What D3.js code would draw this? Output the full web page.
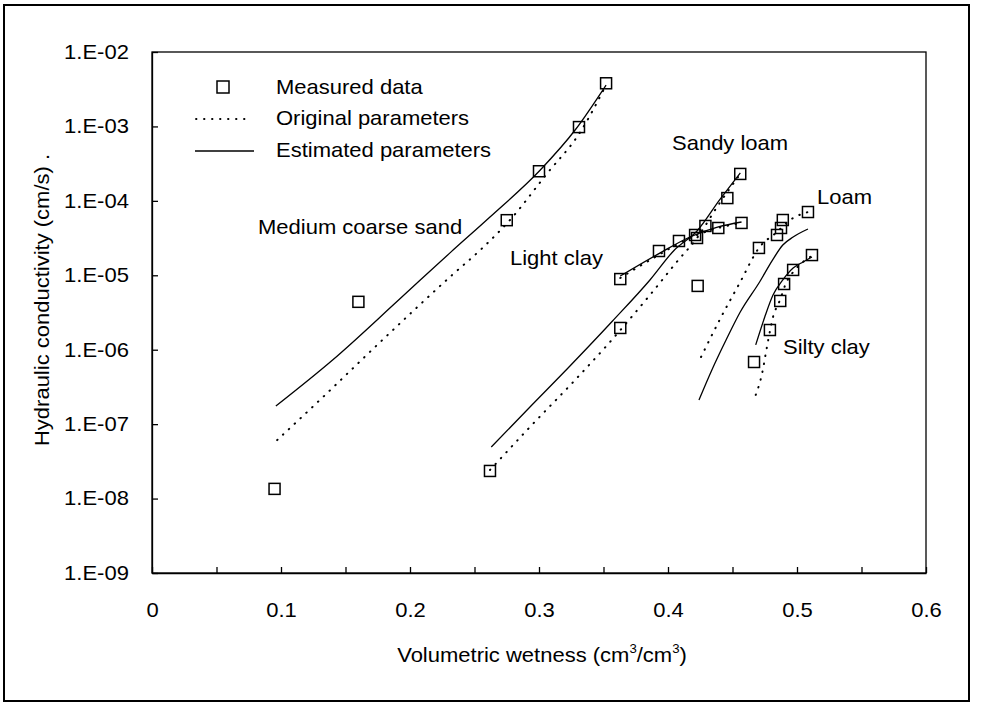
<!DOCTYPE html>
<html>
<head>
<meta charset="utf-8">
<script src="https://cdn.jsdelivr.net/npm/d3@7"></script>
<style>
  body { margin: 0; background: #fff; }
  text { font-family: Arial, "Liberation Sans", sans-serif; fill: #000; }
</style>
</head>
<body>
<div id="target"></div>
<script>
// volumetric wetness (cm3/cm3), hydraulic conductivity (cm/s)
var sandMeasured = [[0.095, 1.35e-8], [0.160, 4.4e-6], [0.275, 5.5e-5], [0.300, 2.5e-4], [0.331, 9.8e-4], [0.352, 3.8e-3]];
var sandOriginal = [[0.097, 6.1e-8], [0.130, 2.1e-7], [0.177, 1.27e-6], [0.231, 9.5e-6], [0.257, 2.4e-5], [0.2775, 5.53e-5], [0.306, 2.3e-4], [0.332, 8.4e-4], [0.352, 3.6e-3]];
var sandEstimated = [[0.096, 1.75e-7], [0.140, 7.28e-7], [0.192, 4.8e-6], [0.231, 2.0e-5], [0.262, 6.07e-5], [0.301, 2.6e-4], [0.328, 8.95e-4], [0.352, 3.6e-3]];

var sandyLoamMeasured = [[0.262, 2.35e-8], [0.363, 1.96e-6], [0.423, 7.2e-6], [0.4225, 3.17e-5], [0.429, 4.6e-5], [0.446, 1.09e-4], [0.456, 2.3e-4]];
var sandyLoamOriginal = [[0.262, 2.42e-8], [0.293, 9.16e-8], [0.328, 3.92e-7], [0.353, 1.16e-6], [0.386, 5.43e-6], [0.408, 1.6e-5], [0.4225, 3.17e-5], [0.438, 8.26e-5], [0.456, 2.3e-4]];
var sandyLoamEstimated = [[0.263, 4.93e-8], [0.293, 1.70e-7], [0.324, 6.04e-7], [0.357, 2.43e-6], [0.386, 8.65e-6], [0.405, 2.19e-5], [0.4225, 3.94e-5], [0.440, 1.03e-4], [0.456, 2.37e-4]];

var lightClayMeasured = [[0.363, 8.9e-6], [0.393, 2.12e-5], [0.4085, 2.89e-5], [0.421, 3.48e-5], [0.439, 4.32e-5], [0.457, 5.05e-5]];
var lightClayOriginal = [[0.363, 9.2e-6], [0.390, 1.76e-5], [0.417, 3.17e-5], [0.439, 4.32e-5], [0.457, 5.05e-5]];
var lightClayEstimated = [[0.363, 9.77e-6], [0.394, 2.0e-5], [0.417, 3.27e-5], [0.439, 4.46e-5], [0.457, 5.2e-5]];

var loamMeasured = [[0.4705, 2.33e-5], [0.4845, 3.48e-5], [0.4876, 4.32e-5], [0.489, 5.53e-5], [0.5085, 7.08e-5]];
var loamOriginal = [[0.4256, 7.98e-7], [0.440, 2.51e-6], [0.456, 8.13e-6], [0.4705, 2.33e-5], [0.4845, 3.82e-5], [0.4946, 5.53e-5], [0.5085, 7.08e-5]];
var loamEstimated = [[0.424, 2.11e-7], [0.434, 5.35e-7], [0.445, 1.35e-6], [0.456, 3.21e-6], [0.471, 8.13e-6], [0.481, 1.6e-5], [0.489, 2.55e-5], [0.497, 3.27e-5], [0.5085, 4.19e-5]];

var siltyClayMeasured = [[0.4667, 6.84e-7], [0.479, 1.84e-6], [0.487, 4.52e-6], [0.490, 7.64e-6], [0.497, 1.18e-5], [0.5116, 1.87e-5]];
var siltyClayOriginal = [[0.468, 2.47e-7], [0.473, 4.86e-7], [0.4767, 1.09e-6], [0.4814, 2.75e-6], [0.4868, 4.66e-6], [0.4915, 7.87e-6], [0.4984, 1.18e-5], [0.5116, 1.82e-5]];
var siltyClayEstimated = [[0.468, 1.16e-6], [0.475, 2.75e-6], [0.4814, 5.43e-6], [0.489, 8.65e-6], [0.497, 1.25e-5], [0.5047, 1.51e-5], [0.5116, 1.76e-5]];

var xTickValues = [0, 0.05, 0.1, 0.15, 0.2, 0.25, 0.3, 0.35, 0.4, 0.45, 0.5, 0.55, 0.6];
var xTickLabels = ["0", "0.1", "0.2", "0.3", "0.4", "0.5", "0.6"];
var yTickValues = [1e-2, 1e-3, 1e-4, 1e-5, 1e-6, 1e-7, 1e-8, 1e-9];
var yTickLabels = ["1.E-02", "1.E-03", "1.E-04", "1.E-05", "1.E-06", "1.E-07", "1.E-08", "1.E-09"];

var soilNames = ["Medium coarse sand", "Sandy loam", "Loam", "Light clay", "Silty clay"];
var legendLabels = ["Measured data", "Original parameters", "Estimated parameters"];

var WIDTH = 984, HEIGHT = 705;
var FONT = "20px";
var STRETCH = "scale(1.1,1)"; // the scanned lettering is a bit wide

var svg = d3.select("#target").append("svg").attr("width", WIDTH).attr("height", HEIGHT);

var x = d3.scaleLinear().domain([0, 0.6]).range([152, 926]);
var y = d3.scaleLog().domain([1e-9, 1e-2]).range([573, 52]);

// text helper, keeps the wide letter look
var addText = function(px, py, str, anchor, angle) {
  var g = svg.append("g")
    .attr("transform", "translate(" + px + "," + py + ")" + (angle ? " rotate(" + angle + ")" : "") + " " + STRETCH);
  return g.append("text")
    .attr("text-anchor", anchor || "start")
    .style("font-size", FONT)
    .text(str);
};

// outer frame
svg.append("rect")
  .attr("x", 4).attr("y", 5)
  .attr("width", 965).attr("height", 696)
  .attr("fill", "none").attr("stroke", "#000").attr("stroke-width", 2);

// plot box
svg.append("rect")
  .attr("x", x(0)).attr("y", y(1e-2))
  .attr("width", x(0.6) - x(0)).attr("height", y(1e-9) - y(1e-2))
  .attr("fill", "none").attr("stroke", "#000").attr("stroke-width", 1.3);

var xAxis = d3.axisBottom(x)
  .tickValues(xTickValues)
  .tickSize(-6).tickSizeOuter(0).tickPadding(30)
  .tickFormat(function(d, i) { return i % 2 === 0 ? xTickLabels[i / 2] : ""; });

var gx = svg.append("g").attr("transform", "translate(0," + y(1e-9) + ")").call(xAxis);
gx.select(".domain").attr("stroke-width", 1.3);
gx.selectAll(".tick line").attr("stroke-width", 1.3);
gx.selectAll(".tick text").style("font-size", FONT).attr("transform", STRETCH);
gx.attr("font-family", null).attr("font-size", null);

var yAxis = d3.axisLeft(y)
  .tickValues(yTickValues)
  .tickSize(-6).tickSizeOuter(0).tickPadding(21)
  .tickFormat(function(d, i) { return yTickLabels[i]; });

var gy = svg.append("g").attr("transform", "translate(" + x(0) + ",0)").call(yAxis);
gy.select(".domain").attr("stroke-width", 1.3);
gy.selectAll(".tick line").attr("stroke-width", 1.3);
gy.selectAll(".tick text").style("font-size", FONT).attr("transform", STRETCH);
gy.attr("font-family", null).attr("font-size", null);

// axis titles
var xt = addText(542, 662, "", "middle");
xt.append("tspan").text("Volumetric wetness (cm");
xt.append("tspan").attr("dy", -9).style("font-size", "12px").text("3");
xt.append("tspan").attr("dy", 9).text("/cm");
xt.append("tspan").attr("dy", -9).style("font-size", "12px").text("3");
xt.append("tspan").attr("dy", 9).text(")");

addText(49, 300, "Hydraulic conductivity (cm/s) .", "middle", -90);

// curves
var line = d3.line()
  .x(function(d) { return x(d[0]); })
  .y(function(d) { return y(d[1]); })
  .curve(d3.curveMonotoneX);

var originals = [sandOriginal, sandyLoamOriginal, lightClayOriginal, loamOriginal, siltyClayOriginal];
var estimated = [sandEstimated, sandyLoamEstimated, lightClayEstimated, loamEstimated, siltyClayEstimated];
var measured = [sandMeasured, sandyLoamMeasured, lightClayMeasured, loamMeasured, siltyClayMeasured];

originals.forEach(function(s) {
  svg.append("path")
    .attr("d", line(s))
    .attr("fill", "none")
    .attr("stroke", "#000")
    .attr("stroke-width", 2)
    .attr("stroke-linecap", "round")
    .attr("stroke-dasharray", "0.5,7.5");
});

estimated.forEach(function(s) {
  svg.append("path")
    .attr("d", line(s))
    .attr("fill", "none")
    .attr("stroke", "#000")
    .attr("stroke-width", 1.3);
});

var SQ = 11;
measured.forEach(function(s) {
  svg.append("g").selectAll("rect")
    .data(s)
    .enter()
    .append("rect")
    .attr("x", function(d) { return x(d[0]) - SQ / 2; })
    .attr("y", function(d) { return y(d[1]) - SQ / 2; })
    .attr("width", SQ).attr("height", SQ)
    .attr("fill", "none")
    .attr("stroke", "#000")
    .attr("stroke-width", 1.5);
});

// soil labels
addText(258, 234, soilNames[0]);
addText(672, 150, soilNames[1]);
addText(817, 204, soilNames[2]);
addText(510, 265, soilNames[3]);
addText(783, 354, soilNames[4]);

// legend
svg.append("rect")
  .attr("x", 217).attr("y", 81).attr("width", 12).attr("height", 12)
  .attr("fill", "none").attr("stroke", "#000").attr("stroke-width", 1.5);
svg.append("line")
  .attr("x1", 196).attr("x2", 252).attr("y1", 119).attr("y2", 119)
  .attr("stroke", "#000").attr("stroke-width", 1.8)
  .attr("stroke-linecap", "round").attr("stroke-dasharray", "0.5,7.5");
svg.append("line")
  .attr("x1", 195).attr("x2", 254).attr("y1", 151).attr("y2", 151)
  .attr("stroke", "#000").attr("stroke-width", 1.3);

addText(276, 94, legendLabels[0]);
addText(276, 125, legendLabels[1]);
addText(276, 157, legendLabels[2]);
</script>
</body>
</html>
